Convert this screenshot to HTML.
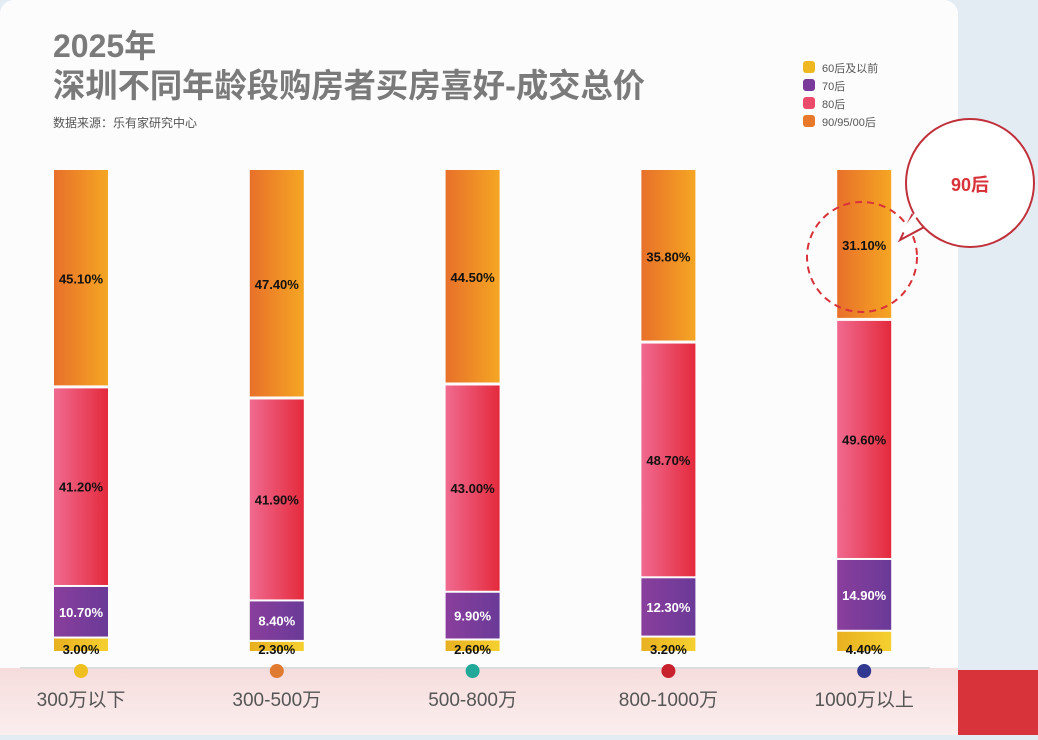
<!DOCTYPE html>
<html><head><meta charset="utf-8"><style>
body{margin:0;width:1038px;height:735px;overflow:hidden;background:#e4ecf3;font-family:"Liberation Sans","Noto Sans CJK SC",sans-serif}
#root{position:relative;width:1038px;height:735px}
</style></head><body>
<div id="root">
<svg width="1038" height="735">
<defs>
<linearGradient id="gO" x1="0" x2="1"><stop offset="0" stop-color="#e8702a"/><stop offset="1" stop-color="#f5a623"/></linearGradient>
<linearGradient id="gP" x1="0" x2="1"><stop offset="0" stop-color="#f06a90"/><stop offset="1" stop-color="#e42a3c"/></linearGradient>
<linearGradient id="gV" x1="0" x2="1"><stop offset="0" stop-color="#8a3e9c"/><stop offset="1" stop-color="#6a3a98"/></linearGradient>
<linearGradient id="gY" x1="0" x2="1"><stop offset="0" stop-color="#e8b020"/><stop offset="1" stop-color="#f5d030"/></linearGradient>
<linearGradient id="gBot" x1="0" y1="0" x2="0" y2="1"><stop offset="0" stop-color="#f6dcdc"/><stop offset="1" stop-color="#fbeeee"/></linearGradient>
</defs>
<rect x="958" y="670" width="80" height="65" fill="#d8323a"/>
<rect x="0" y="0" width="958" height="750" rx="14" fill="#fdfcfc"/>
<rect x="0" y="668" width="958" height="67" fill="url(#gBot)"/>
<line x1="20" y1="668" x2="930" y2="668" stroke="#ddd" stroke-width="2"/>
<text x="53" y="57" font-size="32" font-weight="bold" fill="#7a7a7a">2025年</text>
<text x="53" y="97" font-size="33" font-weight="bold" fill="#7a7a7a" textLength="592" lengthAdjust="spacingAndGlyphs">深圳不同年龄段购房者买房喜好-成交总价</text>
<text x="53" y="127" font-size="12" fill="#555">数据来源：乐有家研究中心</text>
<g id="legend"></g>
<g id="bars"></g>
<circle cx="862" cy="257" r="55" fill="none" stroke="#d8323a" stroke-width="2" stroke-dasharray="7,5"/>
<path d="M900 240 L912 215 L928 225 Z" fill="#fff" stroke="#c0303a" stroke-width="2"/>
<circle cx="970" cy="183" r="64" fill="#fff" stroke="#c0303a" stroke-width="2"/>
<path d="M903 232 L918 212" stroke="#fff" stroke-width="4"/>
<text x="970" y="191" text-anchor="middle" font-size="18" font-weight="bold" fill="#d8323a">90后</text>
</svg>
</div>
<script>
const categories=["300万以下","300-500万","500-800万","800-1000万","1000万以上"];
const s60=[3.0,2.3,2.6,3.2,4.4];
const s70=[10.7,8.4,9.9,12.3,14.9];
const s80=[41.2,41.9,43.0,48.7,49.6];
const s90=[45.1,47.4,44.5,35.8,31.1];
const legendLabels=["60后及以前","70后","80后","90/95/00后"];
const dotColors=["#efbf20","#e07a30","#20a898","#c8202c","#303890"];
const NS="http://www.w3.org/2000/svg";
const top0=170,bot0=652;
function y(v){return bot0-(bot0-top0)*v/100;}
function xc(i){return 81+i*195.8;}
const bw=54;
const g=document.getElementById('bars');
function el(t,a,p){const e=document.createElementNS(NS,t);for(const k in a)e.setAttribute(k,a[k]);p.appendChild(e);return e;}
const series=[[s60,"url(#gY)","#111"],[s70,"url(#gV)","#fff"],[s80,"url(#gP)","#111"],[s90,"url(#gO)","#111"]];
categories.forEach((c,i)=>{
  let cum=0;
  series.forEach((s,k)=>{
    const v=s[0][i];const y1=y(cum),y2=y(cum+v);cum+=v;
    const r=el('rect',{x:xc(i)-bw/2,y:y2+(k<3?1:0),width:bw,height:Math.max(0,y1-y2-2),fill:s[1]},g);
    
    
    const ty=k==0?y1+2:(y1+y2)/2+5;
    const t=el('text',{x:xc(i),y:ty,'text-anchor':'middle','font-size':13,'font-weight':'bold',fill:s[2]},g);
    t.textContent=v.toFixed(2)+'%';
    
    
  });
  const d=el('circle',{cx:xc(i),cy:671,r:7,fill:dotColors[i]},g);
  
  
  const t=el('text',{x:xc(i),y:706,'text-anchor':'middle','font-size':19,fill:'#555'},g);
  t.textContent=c;
  
  
});
const lg=document.getElementById('legend');
const lc=["#f0b820","#7a3a9c","#ec4a6a","#e8782a"];
legendLabels.forEach((l,i)=>{
  const r=el('rect',{x:803,y:61+i*18,width:12,height:12,rx:3,fill:lc[i]},lg);
  
  
  const t=el('text',{x:822,y:72+i*18,'font-size':11,fill:'#555'},lg);
  t.textContent=l;
  
  
});
</script>
</body></html>
